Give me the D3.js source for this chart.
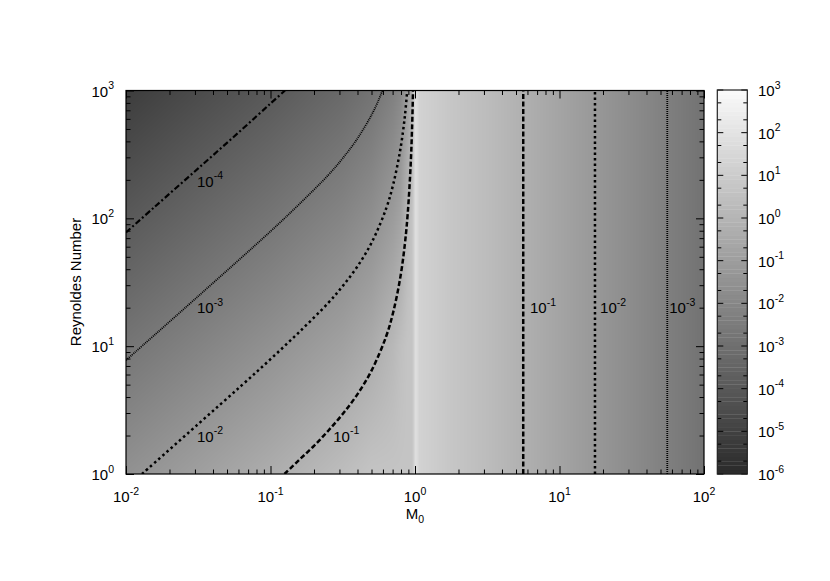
<!DOCTYPE html>
<html>
<head>
<meta charset="utf-8">
<script src="https://cdn.jsdelivr.net/npm/d3@7"></script>
<style>
body { margin: 0; background: #fff; }
text { font-family: "Liberation Sans", Arial, Helvetica, sans-serif; fill: #000; }
</style>
</head>
<body>
<div id="chart"></div>
<script>
// Shading grid (log10 of value)
const machNodes = [0.01, 0.0316, 0.1, 0.316, 0.501, 0.708, 0.794, 0.891, 0.953, 0.977,
                   1.005, 1.033, 1.072, 1.78, 3.16, 5.62, 10, 17.8, 31.6, 56.2, 100];
const reNodes = [1, 10, 100, 1000];
const shadeRe1    = [-1.54, -0.94, -0.33,  0.36,  0.67,  0.67,  0.67,  0.67,  0.67, 1.06, 1.79, 1.71, 1.27, 0.75, 0.32, -0.20, -0.72, -1.24, -1.76, -2.32, -2.88];
const shadeRe10   = [-2.75, -2.15, -1.54, -0.85, -0.42,  0.15,  0.45,  0.67,  0.67, 1.06, 1.79, 1.71, 1.27, 0.75, 0.32, -0.20, -0.72, -1.24, -1.76, -2.32, -2.88];
const shadeRe100  = [-3.97, -3.36, -2.75, -2.06, -1.63, -1.07, -0.76,  0.19,  0.62, 1.06, 1.79, 1.71, 1.27, 0.75, 0.32, -0.20, -0.72, -1.24, -1.76, -2.32, -2.88];
const shadeRe1000 = [-5.18, -4.57, -3.97, -3.27, -2.84, -2.28, -1.97, -1.02, -0.24, 0.84, 1.79, 1.71, 1.27, 0.75, 0.32, -0.20, -0.72, -1.24, -1.76, -2.32, -2.88];

// Contour lines, points as [M0, Re]
const contourM4 = [[0.01, 77.6], [0.0158, 123], [0.0316, 246], [0.0631, 493], [0.1, 791], [0.126, 1000]];
const contourM3 = [[0.01, 7.76], [0.0316, 24.6], [0.1, 79.1], [0.158, 129], [0.251, 218], [0.316, 295],
                   [0.398, 418], [0.501, 646], [0.562, 849], [0.594, 1000]];
const contourM2 = [[0.0129, 1], [0.0316, 2.46], [0.0631, 4.93], [0.1, 7.91], [0.158, 12.9], [0.251, 21.8],
                   [0.316, 29.5], [0.398, 41.8], [0.501, 64.6], [0.631, 119], [0.708, 186], [0.794, 353],
                   [0.851, 631], [0.883, 1000]];
const contourM1 = [[0.125, 1], [0.158, 1.29], [0.2, 1.66], [0.251, 2.18], [0.316, 2.95], [0.398, 4.18],
                   [0.501, 6.46], [0.631, 11.9], [0.708, 18.6], [0.794, 35.3], [0.851, 63.1], [0.891, 110],
                   [0.933, 261], [0.955, 521], [0.969, 1000]];
// supersonic side: vertical contours
const verticalMach = [5.61, 17.6, 55.7];
const verticalLevel = [-1, -2, -3];

// Contour labels: exponent and anchor [M0, Re]
const labelExp = ["-4", "-3", "-2", "-1", "-1", "-2", "-3"];
const labelPos = [[0.031, 177], [0.031, 18.2], [0.031, 1.79], [0.272, 1.79], [6.25, 18.1], [19.1, 18.1], [57.5, 18.1]];

const xTickExp = [-2, -1, 0, 1, 2];
const yTickExp = [0, 1, 2, 3];
const cbTickExp = [-6, -5, -4, -3, -2, -1, 0, 1, 2, 3];

const width = 830, height = 581;

const svg = d3.select("#chart").append("svg")
    .attr("width", width)
    .attr("height", height);

const x = d3.scaleLog().domain([0.01, 100]).range([126, 704]);
const y = d3.scaleLog().domain([1, 1000]).range([474, 90.5]);
const grayOf = d3.scaleLinear().domain([-6, 3]).range([42, 250]).clamp(true);
const shade = v => { const g = Math.round(grayOf(v)); return d3.rgb(g, g, g).toString(); };

// ---- heat map (bilinear in log M0, log Re) ----
const shadeRows = [shadeRe1, shadeRe10, shadeRe100, shadeRe1000];
const logM = machNodes.map(Math.log10);
const logRe = reNodes.map(Math.log10);
const rowScales = shadeRows.map(r => d3.scaleLinear().domain(logM).range(r).clamp(true));

const x0 = x.range()[0], y0 = y.range()[1];
const pw = Math.round(x.range()[1] - x0), ph = Math.round(y.range()[0] - y0);
const canvas = document.createElement("canvas");
canvas.width = pw; canvas.height = ph;
const ctx = canvas.getContext("2d");
const img = ctx.createImageData(pw, ph);
for (let i = 0; i < pw; i++) {
    const lm = Math.log10(x.invert(x0 + i + 0.5));
    const colScale = d3.scaleLinear().domain(logRe).range(rowScales.map(s => s(lm))).clamp(true);
    for (let j = 0; j < ph; j++) {
        const lr = Math.log10(y.invert(y0 + j + 0.5));
        const g = Math.round(grayOf(colScale(lr)));
        const k = (j * pw + i) * 4;
        img.data[k] = g; img.data[k + 1] = g; img.data[k + 2] = g; img.data[k + 3] = 255;
    }
}
ctx.putImageData(img, 0, 0);

svg.append("image")
    .attr("x", x0).attr("y", y0)
    .attr("width", x.range()[1] - x0).attr("height", y.range()[0] - y0)
    .attr("preserveAspectRatio", "none")
    .attr("href", canvas.toDataURL());

svg.append("clipPath").attr("id", "plot-clip")
    .append("rect")
    .attr("x", x0).attr("y", y0)
    .attr("width", x.range()[1] - x0).attr("height", y.range()[0] - y0);

// ---- contours ----
const styles = {
    "-4": {w: 2.2, dash: "6,2.5,2,2.5"},
    "-3": {w: 1.8, dash: "1,1"},
    "-2": {w: 2.5, dash: "2.5,3"},
    "-1": {w: 2.5, dash: "5,2.5"}
};
const line = d3.line().x(d => x(d[0])).y(d => y(d[1])).curve(d3.curveCatmullRom);
const contours = [
    {level: -4, pts: contourM4},
    {level: -3, pts: contourM3},
    {level: -2, pts: contourM2},
    {level: -1, pts: contourM1}
].concat(verticalMach.map((m, i) => ({level: verticalLevel[i], pts: [[m, 1], [m, 1000]]})));

svg.append("g").attr("clip-path", "url(#plot-clip)")
    .selectAll("path")
    .data(contours)
    .enter().append("path")
    .attr("d", d => line(d.pts))
    .attr("fill", "none")
    .attr("stroke", "#000")
    .attr("stroke-width", d => styles[d.level].w)
    .attr("stroke-dasharray", d => styles[d.level].dash);

function powerLabel(sel, exp, size) {
    sel.append("tspan").text("10");
    sel.append("tspan").attr("dy", -size * 0.48).attr("font-size", size * 0.7).text(exp);
}

labelPos.forEach((p, i) => {
    const t = svg.append("text")
        .attr("x", x(p[0])).attr("y", y(p[1]))
        .attr("font-size", 15);
    powerLabel(t, labelExp[i], 15);
});

// ---- axes ----
const minorOf = (lo, hi) => {
    const out = [];
    for (let e = lo; e < hi; e++) for (let k = 2; k <= 9; k++) out.push(k * Math.pow(10, e));
    return out;
};
const xMajor = xTickExp.map(e => Math.pow(10, e));
const yMajor = yTickExp.map(e => Math.pow(10, e));
const xMinor = minorOf(-2, 2);
const yMinor = minorOf(0, 3);

function tickAxis(axis, vals, size, transform) {
    const g = svg.append("g").attr("transform", transform)
        .call(axis.tickValues(vals).tickSize(size).tickFormat(""));
    g.select(".domain").remove();
    g.selectAll("line").attr("stroke", "#000").attr("stroke-width", 1);
}
tickAxis(d3.axisBottom(x), xMajor, -8, `translate(0,${y.range()[0]})`);
tickAxis(d3.axisBottom(x), xMinor, -4.5, `translate(0,${y.range()[0]})`);
tickAxis(d3.axisTop(x), xMajor, -8, `translate(0,${y.range()[1]})`);
tickAxis(d3.axisTop(x), xMinor, -4.5, `translate(0,${y.range()[1]})`);
tickAxis(d3.axisLeft(y), yMajor, -8, `translate(${x.range()[0]},0)`);
tickAxis(d3.axisLeft(y), yMinor, -4.5, `translate(${x.range()[0]},0)`);
tickAxis(d3.axisRight(y), yMajor, -8, `translate(${x.range()[1]},0)`);
tickAxis(d3.axisRight(y), yMinor, -4.5, `translate(${x.range()[1]},0)`);

svg.append("rect")
    .attr("x", x0).attr("y", y0)
    .attr("width", x.range()[1] - x0).attr("height", y.range()[0] - y0)
    .attr("fill", "none").attr("stroke", "#000").attr("stroke-width", 1.2);

xTickExp.forEach(e => {
    const t = svg.append("text")
        .attr("x", x(Math.pow(10, e))).attr("y", 502)
        .attr("text-anchor", "middle").attr("font-size", 15);
    powerLabel(t, e, 15);
});
yTickExp.forEach(e => {
    const t = svg.append("text")
        .attr("x", 114).attr("y", y(Math.pow(10, e)) + 6)
        .attr("text-anchor", "end").attr("font-size", 15);
    powerLabel(t, e, 15);
});

// axis titles
const xt = svg.append("text")
    .attr("x", 415).attr("y", 519)
    .attr("text-anchor", "middle").attr("font-size", 15);
xt.append("tspan").text("M");
xt.append("tspan").attr("dy", 4).attr("font-size", 10.5).text("0");

svg.append("text")
    .attr("transform", "translate(81,282) rotate(-90)")
    .attr("text-anchor", "middle").attr("font-size", 15)
    .text("Reynoldes Number");

// ---- colour bar ----
const cb = d3.scaleLinear().domain([-6, 3]).range([474, 90]);
const cbX0 = 717.3, cbX1 = 747.3;
const bands = d3.range(-6, 3, 0.1);
svg.append("g").selectAll("rect")
    .data(bands)
    .enter().append("rect")
    .attr("x", cbX0).attr("width", cbX1 - cbX0)
    .attr("y", d => cb(d + 0.1)).attr("height", d => cb(d) - cb(d + 0.1) + 0.3)
    .attr("fill", d => shade(d + 0.05));

const cbMinor = [];
for (let e = -6; e < 3; e++) cbMinor.push(e + Math.log10(2), e + Math.log10(5));
const cbTicks = cbTickExp.map(e => ({v: e, len: 6})).concat(cbMinor.map(v => ({v, len: 4})));
svg.append("g").selectAll("path")
    .data(cbTicks)
    .enter().append("path")
    .attr("d", d => `M${cbX0},${cb(d.v)}h${d.len}M${cbX1},${cb(d.v)}h${-d.len}`)
    .attr("stroke", "#000").attr("stroke-width", 1);

svg.append("rect")
    .attr("x", cbX0).attr("y", cb(3))
    .attr("width", cbX1 - cbX0).attr("height", cb(-6) - cb(3))
    .attr("fill", "none").attr("stroke", "#222").attr("stroke-width", 1.2);

cbTickExp.forEach(e => {
    const t = svg.append("text")
        .attr("x", 758).attr("y", cb(e) + 6)
        .attr("font-size", 15);
    powerLabel(t, e, 15);
});
</script>
</body>
</html>
